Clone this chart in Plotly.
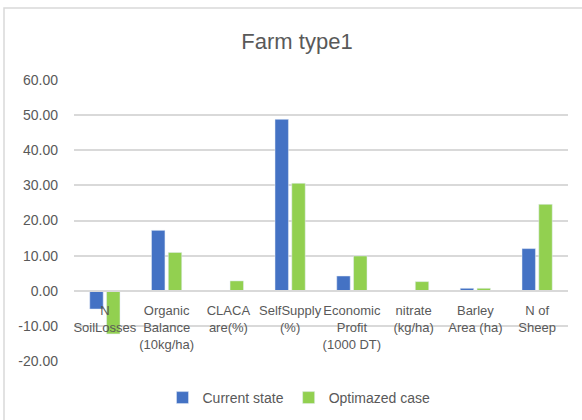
import plotly.graph_objects as go

# Farm type 1 indicators: current vs optimized
categories = [
    "N<br>SoilLosses",
    "Organic<br>Balance<br>(10kg/ha)",
    "CLACA<br>are(%)",
    "SelfSupply<br>(%)",
    "Economic<br>Profit<br>(1000 DT)",
    "nitrate<br>(kg/ha)",
    "Barley<br>Area (ha)",
    "N of<br>Sheep",
]
current_state = [-5.2, 17.2, 0.0, 48.8, 4.2, 0.0, 0.7, 12.0]
optimized_case = [-12.3, 10.9, 2.8, 30.6, 9.9, 2.6, 0.7, 24.6]
y_ticks = [-20, -10, 0, 10, 20, 30, 40, 50, 60]

W, H = 582, 420
ML, MR, MT, MB = 74, 14, 80, 59
pw, ph = W - ML - MR, H - MT - MB

FONT = "Liberation Sans Narrow, Liberation Sans, Arial, sans-serif"
GREY = "#595959"

fig = go.Figure()
fig.add_trace(go.Bar(x=categories, y=current_state, name="Current state",
                     marker=dict(color="#4472C4")))
fig.add_trace(go.Bar(x=categories, y=optimized_case, name="Optimazed case",
                     marker=dict(color="#92D050")))

ymin, ymax = y_ticks[0], y_ticks[-1]
zero_pos = (0 - ymin) / (ymax - ymin)

# outer chart frame (left and top edges visible)
fig.add_shape(type="rect", xref="paper", yref="paper",
              x0=(4 - ML) / pw, x1=(W + 10 - ML) / pw,
              y0=(H - MB - (H + 10)) / ph, y1=(H - MB - 8) / ph,
              line=dict(color="#d9d9d9", width=1.5), fillcolor="rgba(0,0,0,0)",
              layer="below")

fig.update_layout(
    width=W, height=H,
    margin=dict(l=ML, r=MR, t=MT, b=MB, autoexpand=False),
    paper_bgcolor="white", plot_bgcolor="white",
    barmode="group", bargap=0.456, bargroupgap=0.2,
    title=dict(text="Farm type1", x=(297 - ML) / pw, xref="paper",
               xanchor="center", y=1 - 41 / H, yanchor="middle",
               font=dict(family=FONT, size=22, color=GREY)),
    font=dict(family=FONT, color=GREY),
    legend=dict(orientation="h", x=0.5 - 22 / pw, xanchor="center",
                y=(H - MB - 398) / ph, yanchor="middle",
                font=dict(size=14, color=GREY), traceorder="normal",
                itemwidth=30),
    xaxis=dict(anchor="free", position=zero_pos, showline=True,
               linecolor="#d9d9d9", linewidth=1.5, ticks="",
               tickangle=0, automargin=False, ticklabelstandoff=8,
               tickfont=dict(size=13, color=GREY), showgrid=False),
    yaxis=dict(range=[ymin, ymax], tickvals=y_ticks,
               ticktext=[f"{v:.2f}" for v in y_ticks], automargin=False,
               ticklabelstandoff=15,
               showgrid=True, gridcolor="#d9d9d9", gridwidth=1.5,
               zeroline=False, showline=False, ticks="",
               tickfont=dict(size=14, color=GREY)),
)

fig.write_html("out.html")
